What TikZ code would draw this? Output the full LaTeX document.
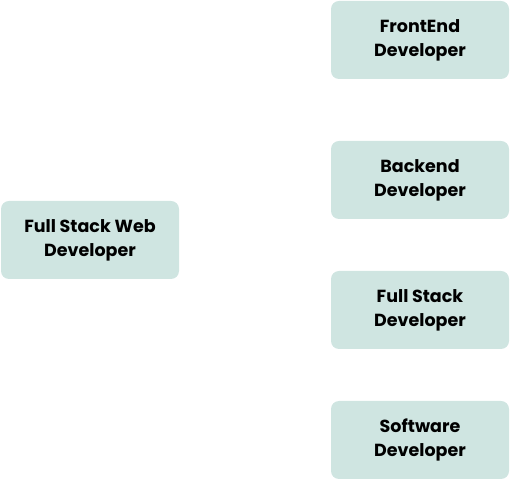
\documentclass[tikz,border=0pt]{standalone}
\usepackage{fontspec}
\setmainfont{Poppins}
\usepackage{xcolor}
\usepackage{tikz}
\usetikzlibrary{positioning}
\definecolor{boxteal}{HTML}{CFE5E1}
\tikzset{rolebox/.style={fill=boxteal,rounded corners=8pt,minimum width=178pt,minimum height=78pt,align=center,font=\fontsize{17.5pt}{24pt}\selectfont\bfseries,inner sep=0pt}}

\begin{document}
\begin{tikzpicture}[x=1pt,y=1pt]
\useasboundingbox (0,0) rectangle (511,481);
\begin{scope}[every node/.style={rolebox}]
    \node (web) at (90,241) {Full Stack Web\\Developer};
    \node (front) at (420,441) {FrontEnd\\Developer};
    \node (back) at (420,301) {Backend\\Developer};
    \node (full) at (420,171) {Full Stack\\Developer};
    \node (soft) at (420,41) {Software\\Developer};
\end{scope}
\end{tikzpicture}
\end{document}
